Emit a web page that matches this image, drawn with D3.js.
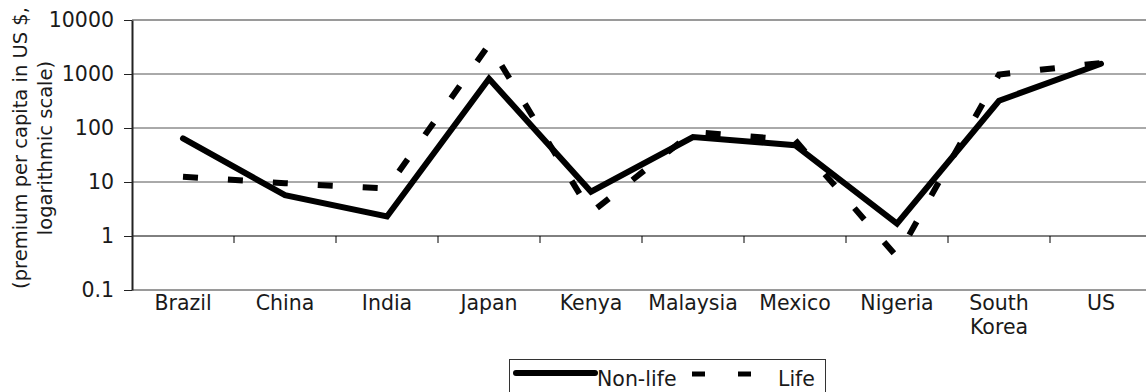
<!DOCTYPE html>
<html>
<head>
<meta charset="utf-8">
<script src="https://cdn.jsdelivr.net/npm/d3@7"></script>
<style>
  body { margin: 0; background: #fff; }
  svg { display: block; }
  text { font-family: "DejaVu Sans", Verdana, sans-serif; fill: #1a1a1a; }
</style>
</head>
<body>
<svg id="chart" width="1146" height="392"></svg>
<script>
// Insurance premium per capita (US $) by country, log scale
const countries = ["Brazil", "China", "India", "Japan", "Kenya", "Malaysia", "Mexico", "Nigeria", "South Korea", "US"];
const nonLife = [64, 5.7, 2.3, 820, 6.6, 68, 48, 1.7, 320, 1550];
const life = [12.5, 9.5, 7.6, 3500, 2.7, 84, 60, 0.41, 980, 1600];
const seriesNames = ["Non-life", "Life"];
const yTickValues = [0.1, 1, 10, 100, 1000, 10000];
const yTickLabels = ["0.1", "1", "10", "100", "1000", "10000"];
const yTitleLines = ["(premium per capita in US $,", "logarithmic scale)"];

const W = 1146, H = 392;
const plot = { left: 132, right: 1152, top: 20, bottom: 290 };
const fontSize = 20.5;

const svg = d3.select("#chart");

const x = d3.scaleBand().domain(countries).range([plot.left, plot.right]).padding(0);
const cx = c => x(c) + x.bandwidth() / 2;
const y = d3.scaleLog().domain([0.1, 10000]).range([plot.bottom, plot.top]);

// Horizontal gridlines at each decade
const grid = svg.append("g");
grid.selectAll("line")
  .data(yTickValues)
  .join("line")
  .attr("x1", plot.left).attr("x2", W)
  .attr("y1", d => y(d)).attr("y2", d => y(d))
  .attr("stroke", d => (d === 0.1 || d === 10000) ? "#9a9a9a" : (d === 1 ? "#000" : "#555"))
  .attr("stroke-width", d => (d === 0.1 || d === 10000) ? 2.2 : 1);

// Category axis crosses the value axis at 1: tick marks between categories
svg.append("g")
  .selectAll("line")
  .data(countries.slice(1))
  .join("line")
  .attr("x1", d => x(d)).attr("x2", d => x(d))
  .attr("y1", y(1)).attr("y2", y(1) + 7)
  .attr("stroke", "#000").attr("stroke-width", 1);

// Value axis
const yAxis = d3.axisLeft(y)
  .tickValues(yTickValues)
  .tickFormat((d, i) => yTickLabels[i])
  .tickSize(8)
  .tickSizeOuter(0)
  .tickPadding(10);
const yg = svg.append("g").attr("transform", `translate(${plot.left},0)`).call(yAxis);
yg.select(".domain").attr("stroke", "#222").attr("stroke-width", 2);
yg.selectAll(".tick line").attr("stroke", "#222");
yg.selectAll("text").attr("font-size", fontSize).attr("font-family", null).attr("fill", "#1a1a1a");

// Category labels below the plot
const xAxis = d3.axisBottom(x).tickSize(0).tickPadding(5);
const xg = svg.append("g").attr("transform", `translate(0,${plot.bottom})`).call(xAxis);
xg.select(".domain").remove();
xg.selectAll("text")
  .attr("font-size", fontSize).attr("font-family", null).attr("fill", "#1a1a1a")
  .each(function (d) {
    const words = d.split(" ");
    if (words.length > 1) {
      const t = d3.select(this).text(null);
      words.forEach((w, i) => {
        t.append("tspan").attr("x", 0).attr("dy", i === 0 ? "0.71em" : "1.2em").text(w);
      });
      t.attr("dy", null);
    }
  });

// Series lines
const line = d3.line().x((d, i) => cx(countries[i])).y(d => y(d));

svg.append("path")
  .datum(life)
  .attr("d", line)
  .attr("fill", "none")
  .attr("stroke", "#000")
  .attr("stroke-width", 6)
  .attr("stroke-dasharray", "15,30")
  .attr("stroke-linejoin", "miter");

svg.append("path")
  .datum(nonLife)
  .attr("d", line)
  .attr("fill", "none")
  .attr("stroke", "#000")
  .attr("stroke-width", 6)
  .attr("stroke-linecap", "round")
  .attr("stroke-linejoin", "miter");

// Value axis title
const title = svg.append("text")
  .attr("transform", "translate(27,148) rotate(-90)")
  .attr("text-anchor", "middle")
  .attr("font-size", 19.5);
yTitleLines.forEach((t, i) => {
  title.append("tspan").attr("x", 0).attr("dy", i === 0 ? 0 : 25).text(t);
});

// Legend
const legend = svg.append("g");
legend.append("rect")
  .attr("x", 509.5).attr("y", 359.5).attr("width", 316).attr("height", 50)
  .attr("fill", "#fff").attr("stroke", "#333").attr("stroke-width", 1);
legend.append("line")
  .attr("x1", 516).attr("x2", 595).attr("y1", 373).attr("y2", 373)
  .attr("stroke", "#000").attr("stroke-width", 6).attr("stroke-linecap", "round");
legend.append("text").attr("x", 597).attr("y", 386).attr("font-size", fontSize).text(seriesNames[0]);
legend.append("line")
  .attr("x1", 692).attr("x2", 751).attr("y1", 374).attr("y2", 374)
  .attr("stroke", "#000").attr("stroke-width", 5).attr("stroke-dasharray", "13,33");
legend.append("text").attr("x", 778).attr("y", 386).attr("font-size", fontSize).text(seriesNames[1]);
</script>
</body>
</html>
